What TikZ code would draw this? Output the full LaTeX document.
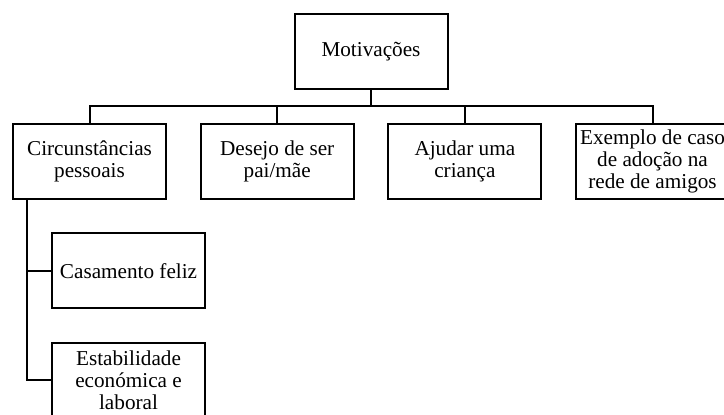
\documentclass[tikz,border=0pt]{standalone}
\usepackage{fontspec}
\setmainfont{Liberation Serif}
\usetikzlibrary{positioning}
\tikzset{
	node distance=24.5pt, % gap between the borders of two boxes
	box/.style={draw, line width=1.5pt, minimum width=114.75pt, minimum height=56.25pt, inner sep=1pt, align=center, font=\fontsize{15.9pt}{16.5pt}\selectfont}, % every box of the chart
	link/.style={line width=1.5pt}, % the lines between the boxes
}
\begin{document}
\begin{tikzpicture}
	\useasboundingbox (0,0) rectangle (543pt,-310.5pt);
			\node[box] (mot) at (278.25pt,-38.6pt) {Motivações};
			\node[box, below=of mot, xshift=-211.1pt] (circ) {Circunstâncias\\pessoais};
			\node[box, right=of circ] (desejo) {Desejo de ser\\pai/mãe};
			\node[box, right=of desejo] (ajudar) {Ajudar uma\\criança};
			\node[box, right=of ajudar] (exemplo) {Exemplo de caso\\de adoção na\\rede de amigos};
			\node[box, below=of circ, xshift=29.25pt] (casam) {Casamento feliz};
			\node[box, below=of casam] (estab) {Estabilidade\\económica e\\laboral};
	\foreach \c in {circ, desejo, ajudar, exemplo}
		\draw[link] (mot.south) -- ++(0,-12.2pt) -| (\c.north);
	\draw[link] ([xshift=11.5pt]circ.south west) |- (casam.west);
	\draw[link] ([xshift=11.5pt]circ.south west) |- (estab.west);
\end{tikzpicture}
\end{document}
